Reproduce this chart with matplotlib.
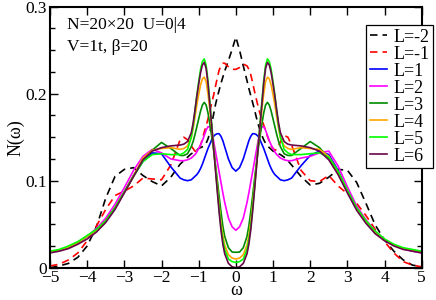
import matplotlib
matplotlib.use("Agg")
import matplotlib.pyplot as plt
from matplotlib.ticker import MultipleLocator, FixedLocator, FixedFormatter

omega = [-5, -4.75, -4.5, -4.25, -4, -3.75, -3.5, -3.25, -3, -2.75, -2.5, -2.25, -2, -1.75,
         -1.5, -1.4, -1.3, -1.2, -1.15, -1.1, -1.05, -1.0, -0.95, -0.9, -0.85, -0.8,
         -0.75, -0.7, -0.65, -0.6, -0.55, -0.5, -0.45, -0.4, -0.35, -0.3, -0.2, -0.1,
         0,
         0.1, 0.2, 0.3, 0.35, 0.4, 0.45, 0.5, 0.55, 0.6, 0.65, 0.7, 0.75,
         0.8, 0.85, 0.9, 0.95, 1.0, 1.05, 1.1, 1.15, 1.2, 1.3, 1.4, 1.5,
         1.75, 2, 2.25, 2.5, 2.75, 3, 3.25, 3.5, 3.75, 4, 4.25, 4.5, 4.75, 5]

N_Lm2 = [0.000, 0.002, 0.005, 0.012, 0.025, 0.047, 0.080, 0.105, 0.113, 0.115, 0.106, 0.099, 0.094, 0.104,
         0.119, 0.123, 0.127, 0.131, 0.132, 0.134, 0.135, 0.137, 0.138, 0.139, 0.140, 0.143,
         0.148, 0.155, 0.165, 0.176, 0.187, 0.196, 0.204, 0.212, 0.219, 0.226, 0.238, 0.251,
         0.265,
         0.250, 0.232, 0.215, 0.206, 0.198, 0.190, 0.182, 0.173, 0.165, 0.158, 0.152, 0.147,
         0.143, 0.140, 0.138, 0.136, 0.134, 0.133, 0.132, 0.131, 0.130, 0.127, 0.123, 0.118,
         0.105, 0.095, 0.097, 0.104, 0.113, 0.112, 0.098, 0.074, 0.049, 0.032, 0.019, 0.009, 0.003, 0.001]

N_Lm1 = [0.002, 0.004, 0.009, 0.017, 0.031, 0.048, 0.067, 0.083, 0.088, 0.094, 0.103, 0.102, 0.101, 0.118,
         0.147, 0.150, 0.147, 0.140, 0.137, 0.134, 0.134, 0.136, 0.141, 0.148, 0.156, 0.163,
         0.171, 0.180, 0.189, 0.198, 0.208, 0.218, 0.227, 0.232, 0.235, 0.235, 0.231, 0.228,
         0.228,
         0.230, 0.234, 0.232, 0.228, 0.222, 0.213, 0.203, 0.194, 0.185, 0.177, 0.170, 0.164,
         0.158, 0.151, 0.145, 0.140, 0.137, 0.135, 0.136, 0.140, 0.145, 0.152, 0.150, 0.141,
         0.112, 0.100, 0.099, 0.106, 0.094, 0.085, 0.074, 0.060, 0.044, 0.030, 0.017, 0.007, 0.003, 0.001]

N_L1 = [0.018, 0.020, 0.024, 0.029, 0.036, 0.043, 0.054, 0.069, 0.087, 0.106, 0.122, 0.132, 0.131, 0.116,
        0.103, 0.101, 0.100, 0.101, 0.103, 0.105, 0.107, 0.110, 0.114, 0.119, 0.125, 0.131,
        0.137, 0.142, 0.147, 0.151, 0.153, 0.154, 0.154, 0.151, 0.146, 0.139, 0.125, 0.115,
        0.111,
        0.115, 0.125, 0.139, 0.146, 0.151, 0.154, 0.154, 0.153, 0.151, 0.147, 0.142, 0.137,
        0.131, 0.125, 0.119, 0.114, 0.110, 0.107, 0.105, 0.103, 0.101, 0.100, 0.101, 0.103,
        0.117, 0.129, 0.134, 0.130, 0.112, 0.088, 0.068, 0.053, 0.041, 0.032, 0.026, 0.022, 0.020, 0.018]

N_L2 = [0.018, 0.020, 0.024, 0.029, 0.036, 0.045, 0.057, 0.073, 0.092, 0.112, 0.128, 0.136, 0.132, 0.125,
        0.123, 0.123, 0.124, 0.126, 0.128, 0.130, 0.133, 0.137, 0.141, 0.146, 0.152, 0.158,
        0.162, 0.162, 0.156, 0.146, 0.134, 0.122, 0.110, 0.098, 0.086, 0.075, 0.057, 0.047,
        0.043,
        0.047, 0.057, 0.075, 0.086, 0.098, 0.110, 0.122, 0.134, 0.146, 0.156, 0.162, 0.162,
        0.158, 0.152, 0.146, 0.141, 0.137, 0.133, 0.130, 0.128, 0.126, 0.124, 0.123, 0.123,
        0.126, 0.128, 0.132, 0.134, 0.117, 0.093, 0.071, 0.055, 0.042, 0.032, 0.026, 0.022, 0.019, 0.017]

N_L3 = [0.018, 0.020, 0.024, 0.029, 0.036, 0.043, 0.054, 0.069, 0.087, 0.106, 0.124, 0.135, 0.144, 0.137,
        0.129, 0.129, 0.131, 0.139, 0.145, 0.153, 0.162, 0.171, 0.180, 0.187, 0.190, 0.187,
        0.178, 0.165, 0.151, 0.136, 0.119, 0.101, 0.082, 0.064, 0.048, 0.036, 0.023, 0.018,
        0.0177,
        0.018, 0.023, 0.036, 0.048, 0.064, 0.082, 0.101, 0.119, 0.136, 0.151, 0.165, 0.178,
        0.187, 0.190, 0.187, 0.180, 0.171, 0.162, 0.153, 0.145, 0.139, 0.131, 0.129, 0.129,
        0.137, 0.145, 0.138, 0.126, 0.110, 0.088, 0.068, 0.053, 0.041, 0.032, 0.026, 0.022, 0.020, 0.018]

N_L4 = [0.018, 0.020, 0.024, 0.029, 0.036, 0.043, 0.054, 0.069, 0.087, 0.106, 0.126, 0.135, 0.137, 0.138,
        0.136, 0.137, 0.140, 0.149, 0.160, 0.173, 0.187, 0.199, 0.210, 0.217, 0.219, 0.214,
        0.200, 0.182, 0.161, 0.139, 0.116, 0.094, 0.072, 0.052, 0.037, 0.026, 0.015, 0.011,
        0.010,
        0.011, 0.015, 0.026, 0.037, 0.052, 0.072, 0.094, 0.116, 0.139, 0.161, 0.182, 0.200,
        0.214, 0.219, 0.217, 0.210, 0.199, 0.187, 0.173, 0.160, 0.149, 0.140, 0.137, 0.136,
        0.138, 0.137, 0.136, 0.128, 0.110, 0.088, 0.068, 0.053, 0.041, 0.032, 0.026, 0.022, 0.020, 0.018]

N_L5 = [0.019, 0.021, 0.025, 0.030, 0.037, 0.044, 0.054, 0.069, 0.087, 0.105, 0.122, 0.130, 0.131, 0.130,
        0.130, 0.132, 0.136, 0.150, 0.163, 0.180, 0.198, 0.214, 0.228, 0.237, 0.240, 0.233,
        0.215, 0.191, 0.165, 0.139, 0.115, 0.091, 0.068, 0.047, 0.032, 0.021, 0.010, 0.007,
        0.006,
        0.007, 0.010, 0.021, 0.032, 0.047, 0.068, 0.091, 0.115, 0.139, 0.165, 0.191, 0.215,
        0.233, 0.240, 0.237, 0.228, 0.214, 0.198, 0.180, 0.163, 0.150, 0.136, 0.132, 0.130,
        0.130, 0.131, 0.132, 0.127, 0.111, 0.089, 0.069, 0.054, 0.042, 0.033, 0.027, 0.023, 0.021, 0.019]

N_L6 = [0.017, 0.019, 0.022, 0.027, 0.033, 0.041, 0.052, 0.067, 0.086, 0.105, 0.124, 0.134, 0.138, 0.140,
        0.141, 0.142, 0.145, 0.155, 0.166, 0.181, 0.197, 0.211, 0.224, 0.233, 0.236, 0.229,
        0.212, 0.188, 0.163, 0.138, 0.113, 0.088, 0.064, 0.043, 0.027, 0.016, 0.005, 0.001,
        0.000,
        0.001, 0.005, 0.016, 0.027, 0.043, 0.064, 0.088, 0.113, 0.138, 0.163, 0.188, 0.212,
        0.229, 0.236, 0.233, 0.224, 0.211, 0.197, 0.181, 0.166, 0.155, 0.145, 0.142, 0.141,
        0.140, 0.138, 0.134, 0.124, 0.107, 0.086, 0.066, 0.051, 0.039, 0.031, 0.025, 0.021, 0.019, 0.017]

labels = ["L=-2", "L=-1", "L=1", "L=2", "L=3", "L=4", "L=5", "L=6"]
series = [N_Lm2, N_Lm1, N_L1, N_L2, N_L3, N_L4, N_L5, N_L6]
colors = ["#000000", "#ff0000", "#0000ff", "#ff00ff", "#008b00", "#ffa500", "#00ff00", "#670748"]
styles = ["--", "--", "-", "-", "-", "-", "-", "-"]

xticks = [-5, -4, -3, -2, -1, 0, 1, 2, 3, 4, 5]
yticks = [0, 0.1, 0.2, 0.3]
ytick_labels = ["0", "0.1", "0.2", "0.3"]

plt.rcParams['font.family'] = ['Liberation Serif', 'DejaVu Serif']

fig = plt.figure(figsize=(4.36, 3.0), dpi=100)
ax = fig.add_axes([50/436, 1-267.7/300, (421.7-50)/436, (267.7-6.7)/300])

for y, lab, c, ls in zip(series, labels, colors, styles):
    if ls == "--":
        ax.plot(omega, y, color=c, lw=1.2, ls=(0, (4.5, 3.0)), label=lab)
    else:
        ax.plot(omega, y, color=c, lw=1.2, ls='-', label=lab)

ax.set_xlim(-5, 5)
ax.set_ylim(0, 0.3)
ax.xaxis.set_major_locator(FixedLocator(xticks))
ax.yaxis.set_major_locator(FixedLocator(yticks))
ax.yaxis.set_major_formatter(FixedFormatter(ytick_labels))
ax.yaxis.set_minor_locator(MultipleLocator(0.025))
ax.tick_params(which='both', direction='in', top=True, right=True, labelsize=12.5)
ax.tick_params(axis='x', pad=2)
ax.tick_params(axis='y', pad=2)
ax.tick_params(which='major', length=6, width=1.0)
ax.tick_params(which='minor', length=3.5, width=1.0)
for s in ax.spines.values():
    s.set_linewidth(1.5)

fig.text(236/436, 0.002, "ω", fontsize=13, ha='center', va='bottom')
ax.set_ylabel("N(ω)", fontsize=13, labelpad=1)

ax.text(0.045, 0.93, "N=20×20  U=0|4", transform=ax.transAxes, fontsize=12.5, va='center', ha='left')
ax.text(0.045, 0.845, "V=1t, β=20", transform=ax.transAxes, fontsize=12.5, va='center', ha='left')

leg = ax.legend(loc='upper left', bbox_to_anchor=(366/436, 1-25/300), bbox_transform=fig.transFigure,
                fontsize=13, frameon=True, fancybox=False, edgecolor='black', framealpha=1,
                handlelength=0.95, handletextpad=0.35, labelspacing=0.0, borderpad=0.2, borderaxespad=0)
leg.get_frame().set_linewidth(0.9)

fig.savefig("out.png", dpi=100)
